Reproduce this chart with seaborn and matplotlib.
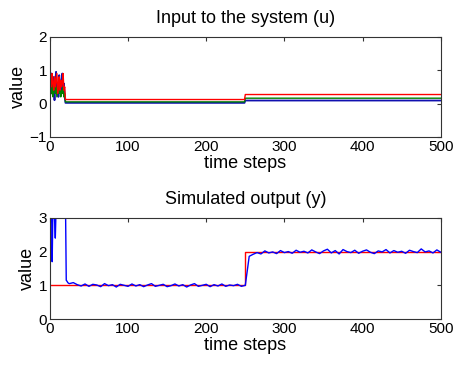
import numpy as np
import pandas as pd
import seaborn as sns
import matplotlib
matplotlib.use("Agg")
import matplotlib.pyplot as plt

# ---- input u: transient (steps 0-20) then constant levels, step change at 250
u_blue_start = [0.2, 0.6, 0.9, 0.3, 0.8, 0.5, 0.1, 0.7, 0.95, 0.4, 0.6,
                0.2, 0.85, 0.5, 0.3, 0.7, 0.9, 0.4, 0.6, 0.2, 0.02]
u_green_start = [-0.1, 0.4, 0.3, 0.7, 0.2, 0.5, 0.6, 0.3, 0.5, 0.2, 0.4,
                 0.6, 0.3, 0.5, 0.2, 0.4, 0.3, 0.5, 0.2, 0.3, 0.05]
u_red_start = [0.3, 0.7, 0.5, 0.9, 0.6, 0.4, 0.8, 0.5, 0.7, 0.9, 0.3,
               0.6, 0.8, 0.4, 0.7, 0.5, 0.6, 0.9, 0.4, 0.5, 0.12]
u_levels_before = {'blue': 0.02, 'green': 0.05, 'red': 0.12}
u_levels_after = {'blue': 0.09, 'green': 0.16, 'red': 0.27}

# ---- output y: reference (red) and simulated (blue)
ref_levels = [1.0, 2.0]
step_time = 250
y_start_steps = list(range(0, 25))
y_start = [1.5, 3.5, 4.0, 1.7, 3.4, 3.6, 3.0, 2.4, 3.3, 3.5, 3.6,
           3.8, 3.5, 3.6, 3.4, 3.5, 3.3, 3.6, 3.5, 3.4, 3.5, 1.15, 1.12, 1.08, 1.06]
# steps 25..250, every 5
y_before = [1.05, 1.08, 1.02, 0.98, 1.04, 0.97, 1.03, 1.01, 0.96, 1.05,
            0.99, 1.02, 0.95, 1.03, 1.00, 0.97, 1.04, 0.98, 1.02, 0.96,
            1.01, 1.05, 0.97, 1.00, 1.03, 0.96, 0.99, 1.04, 0.98, 1.02,
            0.95, 1.01, 1.05, 0.97, 1.00, 1.03, 0.96, 1.02, 0.98, 1.04,
            0.97, 1.01, 0.99, 1.03, 0.97, 1.00]
# steps 255..500, every 5
y_after = [1.86, 1.92, 1.97, 1.93, 2.02, 1.96, 1.99, 1.94, 2.03, 1.97,
           2.00, 1.95, 2.04, 1.98, 2.01, 1.96, 2.05, 1.99, 1.94, 2.02,
           2.07, 1.96, 2.03, 1.93, 2.06, 2.00, 1.97, 2.04, 1.95, 2.01,
           2.05, 1.98, 1.94, 2.02, 1.99, 2.06, 1.96, 2.03, 1.98, 2.01,
           1.95, 2.04, 2.00, 1.97, 2.08, 1.99, 2.02, 1.96, 2.05, 1.98]

t = np.arange(0, 501)


def build_u(start, lo, hi):
    vals = np.where(t < step_time, lo, hi).astype(float)
    vals[:len(start)] = start
    return vals


u_df = pd.DataFrame({'t': t,
                     'blue': build_u(u_blue_start, u_levels_before['blue'], u_levels_after['blue']),
                     'green': build_u(u_green_start, u_levels_before['green'], u_levels_after['green']),
                     'red': build_u(u_red_start, u_levels_before['red'], u_levels_after['red'])})
ref_df = pd.DataFrame({'t': [0, step_time, step_time, 500],
                       'r': [ref_levels[0], ref_levels[0], ref_levels[1], ref_levels[1]]})
y_df = pd.DataFrame({'t': y_start_steps + list(range(25, 251, 5)) + list(range(255, 501, 5)),
                     'y': y_start + y_before + y_after})

sns.set_style("white")
plt.rcParams['font.family'] = ['Liberation Sans', 'DejaVu Sans']
plt.rcParams['xtick.direction'] = 'in'
plt.rcParams['ytick.direction'] = 'in'
plt.rcParams['text.color'] = 'black'
plt.rcParams['axes.labelcolor'] = 'black'
plt.rcParams['xtick.labelcolor'] = 'black'
plt.rcParams['ytick.labelcolor'] = 'black'

fig = plt.figure(figsize=(4.53, 3.68), dpi=100)
ax1 = fig.add_axes([0.110, 0.628, 0.863, 0.272])
ax2 = fig.add_axes([0.110, 0.133, 0.863, 0.275])

sns.lineplot(data=u_df, x='t', y='blue', color='#1010b0', lw=1.3, ax=ax1, estimator=None)
sns.lineplot(data=u_df, x='t', y='green', color='#008000', lw=1, ax=ax1, estimator=None)
sns.lineplot(data=u_df, x='t', y='red', color='#ff0000', lw=1, ax=ax1, estimator=None)

sns.lineplot(data=ref_df, x='t', y='r', color='#ff0000', lw=1, ax=ax2,
             sort=False, estimator=None)
sns.lineplot(data=y_df, x='t', y='y', color='#0000ff', lw=1, ax=ax2, estimator=None)

for ax, title, ylim in [(ax1, 'Input to the system (u)', (-1, 2)),
                        (ax2, 'Simulated output (y)', (0, 3))]:
    ax.set_xlim(0, 500)
    ax.set_ylim(*ylim)
    ax.set_xticks(range(0, 501, 100))
    ax.set_yticks(range(ylim[0], ylim[1] + 1))
    ax.set_title(title, fontsize=13, pad=10)
    ax.set_xlabel('time steps', fontsize=13, labelpad=1)
    ax.set_ylabel('value', fontsize=13, labelpad=2)
    ax.tick_params(labelsize=11, top=True, right=True, length=3, color='#333333', pad=2)
    for s in ax.spines.values():
        s.set_color('#333333')
        s.set_linewidth(0.8)

fig.savefig('out.png', dpi=100)
